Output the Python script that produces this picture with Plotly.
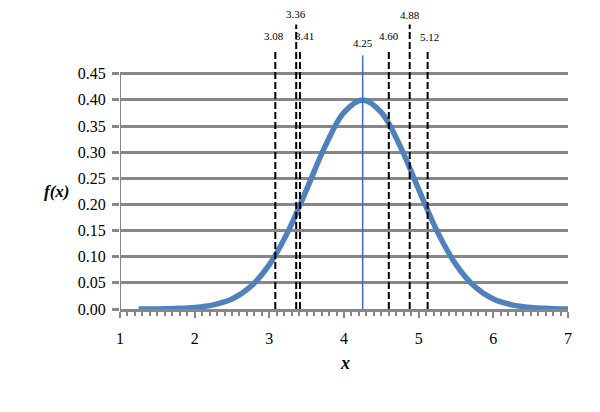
import plotly.graph_objects as go

# curve values
x_vals = [1.25, 1.5, 1.75, 2.0, 2.25, 2.5, 2.75, 3.0, 3.25, 3.5, 3.75, 4.0, 4.25,
          4.5, 4.75, 5.0, 5.25, 5.5, 5.75, 6.0, 6.25, 6.5, 6.75, 7.0]
f_vals = [0.000, 0.000, 0.001, 0.003, 0.008, 0.019, 0.043, 0.085, 0.148, 0.229, 0.312, 0.376, 0.400,
          0.376, 0.312, 0.229, 0.148, 0.085, 0.043, 0.019, 0.008, 0.003, 0.001, 0.000]

# marked points
mean_x = 4.25
dashed_x = [3.08, 3.36, 3.41, 4.60, 4.88, 5.12]
dashed_top = [0.492, 0.544, 0.492, 0.492, 0.544, 0.492]
label_y = [0.523, 0.565, 0.523, 0.523, 0.562, 0.520]
label_shift = [-1, 0, 5, 0, 0, 2]

y_ticks = [0.00, 0.05, 0.10, 0.15, 0.20, 0.25, 0.30, 0.35, 0.40, 0.45]
x_ticks = [1, 2, 3, 4, 5, 6, 7]

grey = '#878787'
serif = 'Times New Roman, Liberation Serif, DejaVu Serif, serif'

fig = go.Figure()
fig.add_trace(go.Scatter(x=x_vals, y=f_vals, mode='lines', line_shape='spline',
                         line=dict(color='#4F81BD', width=5.5), showlegend=False))

# y axis line, only up to the top gridline
fig.add_shape(type='line', x0=1, x1=1, y0=0, y1=y_ticks[-1], xref='x', yref='y',
              line=dict(color=grey, width=2))

for xv, top in zip(dashed_x, dashed_top):
    fig.add_shape(type='line', x0=xv, x1=xv, y0=0, y1=top, xref='x', yref='y',
                  line=dict(color='black', width=2, dash='7px,3px'))
for xv, ly, sh in zip(dashed_x, label_y, label_shift):
    fig.add_annotation(x=xv, y=ly, text=f'{xv:.2f}', showarrow=False, xshift=sh,
                       font=dict(family=serif, size=11, color='black'))

fig.add_shape(type='line', x0=mean_x, x1=mean_x, y0=0, y1=0.485, xref='x', yref='y',
              line=dict(color='#3A6CC8', width=1.5))
fig.add_annotation(x=mean_x, y=0.509, text=f'{mean_x:.2f}', showarrow=False,
                   font=dict(family=serif, size=11, color='black'))

fig.add_annotation(x=-0.174, y=0.393, xref='paper', yref='paper', text='<b><i>f(x)</i></b>',
                   showarrow=False, font=dict(family=serif, size=17, color='black'))
fig.add_annotation(x=0.502, y=-0.221, xref='paper', yref='paper', text='<b><i>x</i></b>',
                   showarrow=False, font=dict(family=serif, size=18, color='black'))

fig.update_xaxes(range=[1, 7], tickvals=x_ticks, showgrid=False, zeroline=False,
                 showline=True, linecolor=grey, linewidth=3,
                 ticks='outside', ticklen=6, tickwidth=2, tickcolor=grey,
                 minor=dict(dtick=0.1, ticks='outside', ticklen=4, tickwidth=1.5, tickcolor=grey),
                 ticklabelstandoff=7,
                 tickfont=dict(family=serif, size=16, color='black'))
fig.update_yaxes(range=[0, 0.57], tickvals=y_ticks, tickformat='.2f',
                 showgrid=True, gridcolor=grey, gridwidth=3, zeroline=False, showline=False,
                 ticks='outside', ticklen=7, tickwidth=3, tickcolor=grey,
                 ticklabelstandoff=3,
                 tickfont=dict(family=serif, size=16, color='black'))

# page body adds 8px, so the figure is 8px smaller
fig.update_layout(width=592, height=404, margin=dict(l=112, r=32, t=3, b=103),
                  plot_bgcolor='white', paper_bgcolor='white')

fig.write_html("out.html")
